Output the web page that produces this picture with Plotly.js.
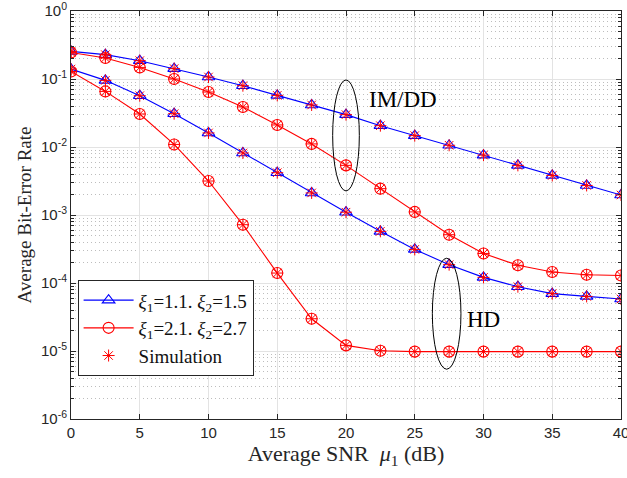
<!DOCTYPE html>
<html>
<head>
<meta charset="utf-8">
<script src="https://cdn.plot.ly/plotly-3.0.1.min.js"></script>
<style>html,body{margin:0;padding:0;background:#fff;}#chart{width:627px;height:478px;}</style>
</head>
<body>
<div id="chart"></div>
<script>
const snr = [0, 2.5, 5, 7.5, 10, 12.5, 15, 17.5, 20, 22.5, 25, 27.5, 30, 32.5, 35, 37.5, 40];
const blueIMDD = [0.255, 0.228, 0.186, 0.142, 0.107, 0.0797, 0.0574, 0.0415, 0.0299, 0.0206, 0.0147, 0.0106, 0.0076, 0.00537, 0.00382, 0.00272, 0.00197];
const redIMDD = [0.246, 0.204, 0.148, 0.100, 0.0644, 0.0388, 0.0211, 0.0111, 0.00537, 0.00244, 0.00111, 0.000513, 0.000272, 0.000182, 0.000145, 0.000132, 0.000129];
const blueHD = [0.140, 0.0955, 0.0568, 0.0309, 0.0161, 0.00817, 0.00419, 0.00211, 0.00110, 0.000575, 0.000312, 0.000186, 0.000121, 0.0000882, 0.0000697, 0.0000635, 0.0000582];
const redHD = [0.129, 0.0657, 0.0306, 0.0109, 0.00316, 0.00072, 0.00014, 0.0000298, 0.0000121, 0.0000101, 0.0000098, 0.0000098, 0.0000098, 0.0000098, 0.0000098, 0.0000098, 0.0000098];
const yTickVals = [1e-6, 1e-5, 1e-4, 1e-3, 1e-2, 1e-1, 1];
const yTickText = ['10<sup>-6</sup>', '10<sup>-5</sup>', '10<sup>-4</sup>', '10<sup>-3</sup>', '10<sup>-2</sup>', '10<sup>-1</sup>', '10<sup>0</sup>'];
const legendNames = ['<i>\u03BE</i><sub>1</sub>=1.1. <i>\u03BE</i><sub>2</sub>=1.5', '<i>\u03BE</i><sub>1</sub>=2.1. <i>\u03BE</i><sub>2</sub>=2.7', 'Simulation'];

const BLUE = '#0000ff', RED = '#ff0000';
function curve(y, color, symbol, name, show) {
  return {x: snr, y: y, type: 'scatter', mode: 'lines+markers', name: name, showlegend: show,
    line: {color: color, width: 1.1},
    marker: {symbol: symbol, size: 11, color: color, line: {color: color, width: 1.1}}};
}
const simX = [], simY = [];
[blueIMDD, redIMDD, blueHD, redHD].forEach(s => { s.forEach((v, i) => { simX.push(snr[i]); simY.push(v); }); });

const traces = [
  curve(blueIMDD, BLUE, 'triangle-up-open', legendNames[0], true),
  curve(blueHD, BLUE, 'triangle-up-open', legendNames[0], false),
  curve(redIMDD, RED, 'circle-open', legendNames[1], true),
  curve(redHD, RED, 'circle-open', legendNames[1], false),
  {x: simX, y: simY, type: 'scatter', mode: 'markers', name: legendNames[2],
   marker: {symbol: 'asterisk-open', size: 10, color: RED, line: {color: RED, width: 1}}}
];

const axisCommon = {
  showline: true, mirror: 'ticks', linecolor: '#262626', linewidth: 1,
  ticks: 'inside', ticklen: 5, tickcolor: '#262626',
  showgrid: true, gridcolor: '#e3e3e3', gridwidth: 1, zeroline: false,
  ticklabeloverflow: 'allow',
  tickfont: {family: 'Liberation Sans, Arial, sans-serif', size: 15, color: '#262626'}
};

const layout = {
  width: 627, height: 478,
  margin: {l: 71, r: 6, t: 11, b: 59},
  paper_bgcolor: '#fff', plot_bgcolor: '#fff',
  font: {family: 'Liberation Serif, Times New Roman, serif', color: '#262626'},
  xaxis: Object.assign({}, axisCommon, {
    range: [0, 40], tick0: 0, dtick: 5,
    title: {text: 'Average SNR  <i>\u03BC</i><sub>1</sub> (dB)', font: {family: 'Liberation Serif, serif', size: 22, color: '#262626'}, standoff: 2}
  }),
  yaxis: Object.assign({}, axisCommon, {
    type: 'log', range: [-6, 0], tickvals: yTickVals, ticktext: yTickText,
    minor: {dtick: 'D1', ticks: 'inside', ticklen: 3, tickcolor: '#262626', showgrid: true, gridcolor: '#bdbdbd', griddash: '1px,3px', gridwidth: 1},
    title: {text: 'Average Bit-Error Rate', font: {family: 'Liberation Serif, serif', size: 19, color: '#262626'}, standoff: 4}
  }),
  legend: {
    x: 0.012, y: 0.34, xanchor: 'left', yanchor: 'top',
    bgcolor: '#fff', bordercolor: '#262626', borderwidth: 1,
    font: {family: 'Liberation Serif, serif', size: 19, color: '#111'},
    itemwidth: 50, tracegroupgap: 0
  },
  shapes: [
    {type: 'circle', xref: 'x', yref: 'paper', x0: 19.03, x1: 20.97, y0: 0.559, y1: 0.831, line: {color: '#000', width: 1}},
    {type: 'circle', xref: 'x', yref: 'paper', x0: 26.28, x1: 28.36, y0: 0.122, y1: 0.394, line: {color: '#000', width: 1}}
  ],
  annotations: [
    {xref: 'x', yref: 'paper', x: 24.15, y: 0.782, yanchor: 'middle', text: 'IM/DD', showarrow: false, font: {family: 'Liberation Serif, serif', size: 23, color: '#000'}},
    {xref: 'x', yref: 'paper', x: 30.0, y: 0.245, yanchor: 'middle', text: 'HD', showarrow: false, font: {family: 'Liberation Serif, serif', size: 23, color: '#000'}}
  ]
};

Plotly.newPlot('chart', traces, layout, {displayModeBar: false, staticPlot: true});
</script>
</body>
</html>
